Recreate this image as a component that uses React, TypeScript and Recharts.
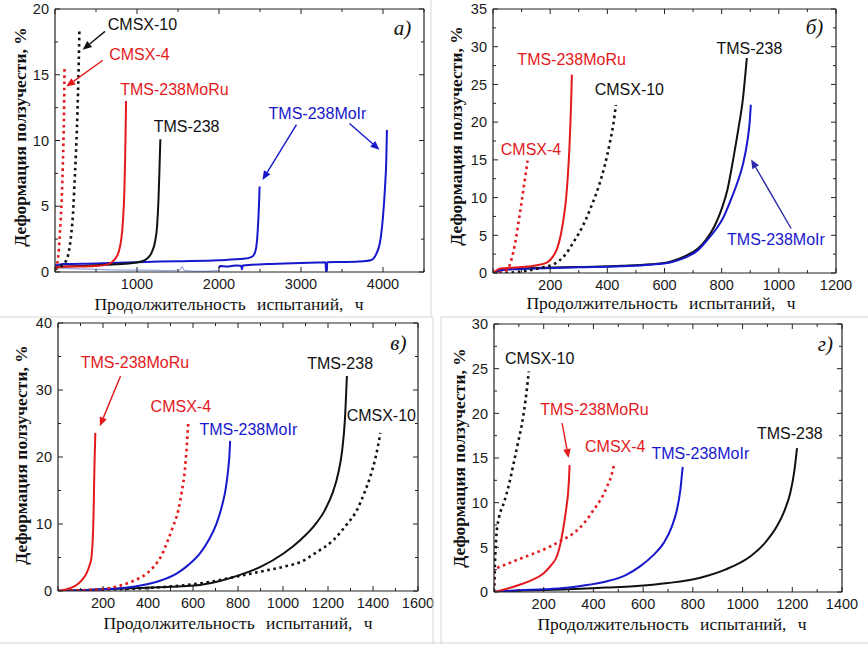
import React from 'react';
import { LineChart, Line, XAxis, YAxis, ReferenceDot, ReferenceLine } from 'recharts';

type Pt = [number, number];

const RED = '#e3191c';
const BLUE = '#1717cc';
const BLACK = '#111111';
const SANS = '"Liberation Sans", Arial, sans-serif';
const SERIF = '"Liberation Serif", "Times New Roman", serif';

// ---- panel а) ----
const aCmsx4: Pt[] = [[0, 0.2], [20, 0.5], [40, 1.2], [55, 2.5], [70, 4], [85, 6], [95, 8], [105, 10.5], [112, 13], [116, 15.5]];
const aCmsx10: Pt[] = [[0, 0.2], [60, 0.4], [120, 0.7], [160, 1.3], [200, 3], [225, 5], [240, 7], [255, 9], [268, 11], [280, 13.5], [290, 16], [298, 18.5]];
const aMoRu: Pt[] = [[0, 0.2], [20, 0.35], [100, 0.4], [300, 0.42], [500, 0.45], [650, 0.6], [720, 0.9], [780, 1.6], [810, 2.6], [830, 4], [845, 6], [855, 8.5], [862, 11], [866, 13]];
const aTms238: Pt[] = [[0, 0.3], [50, 0.4], [300, 0.45], [600, 0.55], [900, 0.65], [1050, 0.8], [1120, 1], [1180, 1.5], [1220, 2.3], [1245, 3.5], [1262, 5.5], [1275, 8], [1285, 10.1]];
const aMoIr1: Pt[] = [[0, 0.5], [100, 0.6], [500, 0.65], [1000, 0.75], [1500, 0.82], [2000, 0.9], [2300, 1], [2400, 1.15], [2440, 1.5], [2465, 2.5], [2480, 4], [2490, 5.5], [2495, 6.5]];
const aMoIr2: Pt[] = [[2000, 0.3], [2010, 0.45], [2100, 0.42], [2200, 0.5], [2270, 0.48], [2280, 0.2], [2290, 0.5], [2400, 0.55], [2600, 0.6], [2800, 0.65], [3000, 0.68], [3200, 0.72], [3300, 0.74], [3305, 0], [3315, 0], [3320, 0.74], [3500, 0.76], [3700, 0.8], [3850, 0.9], [3920, 1.4], [3970, 2.5], [4000, 4.2], [4025, 6.5], [4040, 8.5], [4048, 10.8]];
const aNoise: Pt[] = [[0, 0.3], [200, 0.25], [500, 0.2], [800, 0.15], [1100, 0.15], [1400, 0.1], [1520, 0.15], [1550, 0.4], [1580, 0.1], [1800, 0.05], [2000, 0.1]];

// ---- panel б) ----
const bCmsx4: Pt[] = [[0, 0], [30, 0.1], [45, 0.3], [60, 1.2], [70, 2.6], [80, 4.5], [92, 7.4], [100, 9.4], [108, 11.5], [115, 13.3], [121, 14.9]];
const bMoRu: Pt[] = [[0, 0], [10, 0.3], [25, 0.6], [60, 0.7], [100, 0.8], [150, 1], [190, 1.4], [210, 2.2], [225, 3.3], [238, 5.2], [248, 7.5], [256, 10], [262, 13], [267, 16.3], [271, 20], [274, 23.5], [276, 26.3]];
const bCmsx10: Pt[] = [[0, 0], [60, 0.05], [100, 0.2], [145, 0.5], [180, 0.8], [215, 1.2], [250, 2.3], [285, 4.3], [315, 6.3], [343, 8.75], [370, 11.5], [390, 14.1], [410, 17.5], [420, 19.5], [430, 22.3]];
const bTms238: Pt[] = [[0, 0], [20, 0.3], [50, 0.5], [150, 0.65], [300, 0.8], [450, 0.95], [550, 1.15], [620, 1.5], [670, 2.2], [716, 3.2], [745, 4.4], [775, 6.2], [800, 8.5], [820, 11], [840, 15], [858, 19], [874, 23], [888, 28.5]];
const bMoIr: Pt[] = [[0, 0], [20, 0.3], [50, 0.45], [150, 0.6], [300, 0.75], [450, 0.9], [550, 1.1], [620, 1.4], [670, 2], [716, 3], [750, 4.4], [780, 5.8], [805, 7.3], [830, 9.5], [855, 12], [875, 14.5], [890, 17.5], [898, 20], [902, 22.3]];

// ---- panel в) ----
const cMoRu: Pt[] = [[0, 0], [30, 0.2], [60, 0.5], [82, 0.9], [105, 1.6], [126, 2.6], [140, 3.8], [149, 5.1], [154, 7.5], [157, 10], [159, 13], [161, 17], [163, 20], [166, 23.6]];
const cCmsx4: Pt[] = [[0, 0], [100, 0.1], [200, 0.3], [260, 0.65], [320, 1.3], [360, 1.9], [394, 2.6], [430, 3.8], [460, 5.3], [483, 7.1], [510, 9.5], [535, 12.1], [550, 14.8], [564, 18.1], [572, 21.5], [579, 25.1]];
const cMoIr: Pt[] = [[0, 0], [100, 0.1], [200, 0.25], [300, 0.5], [378, 0.9], [450, 1.5], [527, 2.6], [580, 3.9], [631, 5.6], [670, 7.6], [705, 10.1], [728, 12.6], [745, 15.2], [756, 18], [762, 20.3], [765, 22.4]];
const cTms238: Pt[] = [[0, 0], [200, 0.25], [400, 0.5], [550, 0.7], [631, 0.9], [720, 1.5], [809, 2.4], [900, 3.6], [1002, 5.6], [1080, 7.7], [1140, 9.8], [1185, 12], [1220, 14.6], [1245, 17.5], [1263, 21], [1275, 25.5], [1284, 32.1]];
const cCmsx10: Pt[] = [[0, 0], [200, 0.2], [400, 0.45], [600, 1], [700, 1.5], [800, 2.2], [900, 2.9], [1000, 3.6], [1076, 4.3], [1150, 5.8], [1224, 7.6], [1280, 9.8], [1329, 12.1], [1360, 14.5], [1388, 17.1], [1412, 20], [1433, 23.6]];

// ---- panel г) ----
const dCmsx10: Pt[] = [[0, 0], [2, 2], [5, 4], [10, 6.5], [20, 8.3], [40, 10], [60, 12], [79, 14.4], [95, 16.5], [113, 18.9], [127, 21.5], [140, 24.7]];
const dCmsx4: Pt[] = [[0, 0], [3, 2.3], [10, 2.6], [50, 3.1], [93, 3.6], [150, 4.2], [227, 5.1], [280, 5.9], [321, 6.6], [365, 7.8], [401, 9.2], [430, 10.4], [455, 11.8], [472, 13], [484, 14.4]];
const dMoRu: Pt[] = [[0, 0], [50, 0.35], [106, 0.84], [150, 1.3], [200, 2.1], [230, 3], [253, 4], [268, 5.5], [280, 7.35], [290, 9.2], [298, 11.1], [302, 12.8], [304, 14.2]];
const dMoIr: Pt[] = [[0, 0], [100, 0.2], [200, 0.3], [294, 0.47], [380, 0.8], [455, 1.2], [530, 1.9], [589, 2.9], [640, 4.1], [683, 5.5], [715, 7.3], [736, 9.2], [750, 11.5], [759, 14]];
const dTms238: Pt[] = [[0, 0], [100, 0.15], [300, 0.3], [450, 0.5], [562, 0.65], [700, 1], [830, 1.6], [930, 2.5], [1032, 4], [1090, 5.5], [1138, 7.35], [1170, 9.2], [1192, 11.1], [1208, 13.5], [1219, 16.1]];

// ticks: all positions, and the labelled ones
const aXTicks = [0, 500, 1000, 1500, 2000, 2500, 3000, 3500, 4000, 4500];
const aXLabels = [1000, 2000, 3000, 4000];
const aYTicks = [0, 2.5, 5, 7.5, 10, 12.5, 15, 17.5, 20];
const aYLabels = [0, 5, 10, 15, 20];
const bXTicks = [0, 100, 200, 300, 400, 500, 600, 700, 800, 900, 1000, 1100, 1200];
const bXLabels = [200, 400, 600, 800, 1000, 1200];
const bYTicks = [0, 2.5, 5, 7.5, 10, 12.5, 15, 17.5, 20, 22.5, 25, 27.5, 30, 32.5, 35];
const bYLabels = [0, 5, 10, 15, 20, 25, 30, 35];
const cXTicks = [0, 100, 200, 300, 400, 500, 600, 700, 800, 900, 1000, 1100, 1200, 1300, 1400, 1500, 1600];
const cXLabels = [200, 400, 600, 800, 1000, 1200, 1400, 1600];
const cYTicks = [0, 5, 10, 15, 20, 25, 30, 35, 40];
const cYLabels = [0, 10, 20, 30, 40];
const dXTicks = [0, 100, 200, 300, 400, 500, 600, 700, 800, 900, 1000, 1100, 1200, 1300, 1400];
const dXLabels = [200, 400, 600, 800, 1000, 1200, 1400];
const dYTicks = [0, 2.5, 5, 7.5, 10, 12.5, 15, 17.5, 20, 22.5, 25, 27.5, 30];
const dYLabels = [0, 5, 10, 15, 20, 25, 30];

type Series = { pts: Pt[]; color: string; dotted?: boolean; width?: number };
type Note = { x: number; y: number; text: string; color: string };
type Arrow = { from: Pt; to: Pt; color: string };

const toRows = (pts: Pt[]) => pts.map(([x, y]) => ({ x, y }));

const bottomTick = (labels: number[], show: boolean) => (p: any) => {
  const v = p.payload.value;
  const major = labels.includes(v) || v === 0;
  const len = major ? 5 : 3;
  const dir = show ? -1 : 1;
  return (
    <g>
      <line x1={p.x} x2={p.x} y1={p.y} y2={p.y + dir * len} stroke="#222" strokeWidth={1} />
      {show && labels.includes(v) && (
        <text x={p.x} y={p.y + 16.5} textAnchor="middle" fontFamily={SANS} fontSize={14.5} fill="#1a1a1a">
          {v}
        </text>
      )}
    </g>
  );
};

const sideTick = (labels: number[], show: boolean) => (p: any) => {
  const v = p.payload.value;
  const len = labels.includes(v) ? 5 : 3;
  const dir = show ? 1 : -1;
  return (
    <g>
      <line x1={p.x} x2={p.x + dir * len} y1={p.y} y2={p.y} stroke="#222" strokeWidth={1} />
      {show && labels.includes(v) && (
        <text x={p.x - 6} y={p.y} dy="0.36em" textAnchor="end" fontFamily={SANS} fontSize={14.5} fill="#1a1a1a">
          {v}
        </text>
      )}
    </g>
  );
};

const arrowShape = (color: string) => (p: any) => {
  const { x1, y1, x2, y2 } = p;
  const ang = Math.atan2(y2 - y1, x2 - x1);
  const L = 9;
  const W = 3.8;
  const bx = x2 - L * Math.cos(ang);
  const by = y2 - L * Math.sin(ang);
  const nx = -Math.sin(ang) * W;
  const ny = Math.cos(ang) * W;
  return (
    <g>
      <line x1={x1} y1={y1} x2={bx} y2={by} stroke={color} strokeWidth={1.4} />
      <polygon points={`${x2},${y2} ${bx + nx},${by + ny} ${bx - nx},${by - ny}`} fill={color} />
    </g>
  );
};

const noteShape = (text: string, color: string, italic: boolean) => (p: any) => (
  <text
    x={p.cx}
    y={p.cy}
    dy="0.35em"
    textAnchor="middle"
    fontFamily={italic ? SERIF : SANS}
    fontStyle={italic ? 'italic' : 'normal'}
    fontSize={italic ? 21 : 16}
    fill={color}
  >
    {text}
  </text>
);

type PanelProps = {
  left: number;
  top: number;
  width: number;
  height: number;
  margin: { top: number; right: number; bottom: number; left: number };
  xDomain: [number, number];
  yDomain: [number, number];
  xTicks: number[];
  xLabels: number[];
  yTicks: number[];
  yLabels: number[];
  series: Series[];
  notes: Note[];
  arrows: Arrow[];
  tag: Note;
};

const AXIS_LINE = { stroke: '#222', strokeWidth: 1.2 };

function Panel(props: PanelProps) {
  const { xDomain, yDomain, xTicks, xLabels, yTicks, yLabels } = props;
  // axes take 1px each, so the plot box lands where the margin says
  const m = props.margin;
  const margin = { top: m.top - 1, right: m.right - 1, bottom: m.bottom - 1, left: m.left - 1 };
  return (
    <div style={{ position: 'absolute', left: props.left, top: props.top }}>
      <LineChart width={props.width} height={props.height} margin={margin}>
        <XAxis
          type="number"
          dataKey="x"
          domain={xDomain}
          ticks={xTicks}
          interval={0}
          allowDataOverflow
          height={1}
          tickSize={0}
          tickMargin={0}
          tickLine={false}
          axisLine={AXIS_LINE}
          tick={bottomTick(xLabels, true)}
        />
        <XAxis
          xAxisId="top"
          orientation="top"
          type="number"
          dataKey="x"
          domain={xDomain}
          ticks={xTicks}
          interval={0}
          allowDataOverflow
          height={1}
          tickSize={0}
          tickMargin={0}
          tickLine={false}
          axisLine={AXIS_LINE}
          tick={bottomTick(xLabels, false)}
        />
        <YAxis
          type="number"
          domain={yDomain}
          ticks={yTicks}
          interval={0}
          allowDataOverflow
          width={1}
          tickSize={0}
          tickMargin={0}
          tickLine={false}
          axisLine={AXIS_LINE}
          tick={sideTick(yLabels, true)}
        />
        <YAxis
          yAxisId="right"
          orientation="right"
          type="number"
          domain={yDomain}
          ticks={yTicks}
          interval={0}
          allowDataOverflow
          width={1}
          tickSize={0}
          tickMargin={0}
          tickLine={false}
          axisLine={AXIS_LINE}
          tick={sideTick(yLabels, false)}
        />
        {props.series.map((s, i) => (
          <Line
            key={i}
            data={toRows(s.pts)}
            dataKey="y"
            type="monotone"
            stroke={s.color}
            strokeWidth={s.width ?? (s.dotted ? 2.6 : 2)}
            strokeDasharray={s.dotted ? '2.6 3.6' : undefined}
            dot={false}
            activeDot={false}
            isAnimationActive={false}
          />
        ))}
        {props.arrows.map((a, i) => (
          <ReferenceLine
            key={'a' + i}
            segment={[{ x: a.from[0], y: a.from[1] }, { x: a.to[0], y: a.to[1] }]}
            shape={arrowShape(a.color)}
          />
        ))}
        {props.notes.map((n, i) => (
          <ReferenceDot key={'n' + i} x={n.x} y={n.y} shape={noteShape(n.text, n.color, false)} />
        ))}
        <ReferenceDot x={props.tag.x} y={props.tag.y} shape={noteShape(props.tag.text, props.tag.color, true)} />
      </LineChart>
    </div>
  );
}

const Y_TITLE = 'Деформация ползучести, %';
const X_TITLE = 'Продолжительность испытаний, ч';

function Titles() {
  const yPos: Pt[] = [[20, 137], [456, 136], [21, 455], [459, 458]];
  const xPos: Pt[] = [[229, 309.5], [661, 309], [238, 629], [672, 630]];
  return (
    <svg width={868} height={646} style={{ position: 'absolute', left: 0, top: 0, pointerEvents: 'none' }}>
      <line x1={431} y1={0} x2={431} y2={317} stroke="#d6d6d6" />
      <line x1={0} y1={317} x2={433} y2={317} stroke="#d6d6d6" />
      <line x1={433} y1={317} x2={433} y2={644} stroke="#d6d6d6" />
      <line x1={441} y1={317} x2={441} y2={644} stroke="#d6d6d6" />
      <line x1={441} y1={317} x2={868} y2={317} stroke="#d6d6d6" />
      <line x1={0} y1={643} x2={868} y2={643} stroke="#d6d6d6" />
      {yPos.map(([x, y], i) => (
        <text
          key={'y' + i}
          transform={`translate(${x},${y}) rotate(-90)`}
          textAnchor="middle"
          dy="0.35em"
          fontFamily={SERIF}
          fontSize={17.5}
          fontWeight={600}
          fill="#111"
        >
          {Y_TITLE}
        </text>
      ))}
      {xPos.map(([x, y], i) => (
        <text key={'x' + i} x={x} y={y} textAnchor="middle" fontFamily={SERIF} fontSize={17.5} wordSpacing={7} fill="#111">
          {X_TITLE}
        </text>
      ))}
    </svg>
  );
}

export default function App() {
  return (
    <div style={{ position: 'absolute', left: 0, top: 0, width: 868, height: 646, background: '#fff', overflow: 'hidden' }}>
      <Panel
        left={0}
        top={0}
        width={434}
        height={310}
        margin={{ top: 9, right: 10, bottom: 38, left: 55 }}
        xDomain={[0, 4500]}
        yDomain={[0, 20]}
        xTicks={aXTicks}
        xLabels={aXLabels}
        yTicks={aYTicks}
        yLabels={aYLabels}
        series={[
          { pts: aNoise, color: '#9aa6e6', width: 1.2 },
          { pts: aMoIr1, color: BLUE },
          { pts: aMoIr2, color: BLUE },
          { pts: aTms238, color: BLACK },
          { pts: aMoRu, color: RED },
          { pts: aCmsx10, color: BLACK, dotted: true },
          { pts: aCmsx4, color: RED, dotted: true },
        ]}
        arrows={[
          { from: [610, 18.3], to: [338, 16.9], color: BLACK },
          { from: [583, 16.1], to: [137, 14.1], color: RED },
          { from: [2945, 11.2], to: [2530, 7.0], color: BLUE },
          { from: [3591, 11.3], to: [3957, 9.3], color: BLUE },
        ]}
        notes={[
          { x: 1067, y: 18.85, text: 'CMSX-10', color: BLACK },
          { x: 1030, y: 16.57, text: 'CMSX-4', color: RED },
          { x: 1457, y: 13.9, text: 'TMS-238MoRu', color: RED },
          { x: 1604, y: 11.09, text: 'TMS-238', color: BLACK },
          { x: 3201, y: 12.08, text: 'TMS-238MoIr', color: BLUE },
        ]}
        tag={{ x: 4238, y: 18.55, text: 'а)', color: BLACK }}
      />
      <Panel
        left={434}
        top={0}
        width={434}
        height={310}
        margin={{ top: 9, right: 32, bottom: 37, left: 59 }}
        xDomain={[0, 1200]}
        yDomain={[0, 35]}
        xTicks={bXTicks}
        xLabels={bXLabels}
        yTicks={bYTicks}
        yLabels={bYLabels}
        series={[
          { pts: bTms238, color: BLACK },
          { pts: bMoIr, color: BLUE },
          { pts: bCmsx10, color: BLACK, dotted: true },
          { pts: bMoRu, color: RED },
          { pts: bCmsx4, color: RED, dotted: true },
        ]}
        arrows={[{ from: [1043, 5.9], to: [903, 15.05], color: '#2a2aa8' }]}
        notes={[
          { x: 275, y: 28.26, text: 'TMS-238MoRu', color: RED },
          { x: 477, y: 24.36, text: 'CMSX-10', color: BLACK },
          { x: 897, y: 29.8, text: 'TMS-238', color: BLACK },
          { x: 133, y: 16.38, text: 'CMSX-4', color: RED },
          { x: 990, y: 4.41, text: 'TMS-238MoIr', color: BLUE },
        ]}
        tag={{ x: 1125, y: 32.7, text: 'б)', color: BLACK }}
      />
      <Panel
        left={0}
        top={310}
        width={434}
        height={336}
        margin={{ top: 13, right: 16, bottom: 55, left: 58 }}
        xDomain={[0, 1600]}
        yDomain={[0, 40]}
        xTicks={cXTicks}
        xLabels={cXLabels}
        yTicks={cYTicks}
        yLabels={cYLabels}
        series={[
          { pts: cCmsx10, color: BLACK, dotted: true },
          { pts: cTms238, color: BLACK },
          { pts: cMoIr, color: BLUE },
          { pts: cCmsx4, color: RED, dotted: true },
          { pts: cMoRu, color: RED },
        ]}
        arrows={[{ from: [278, 32.1], to: [186, 24.6], color: RED }]}
        notes={[
          { x: 342, y: 34.1, text: 'TMS-238MoRu', color: RED },
          { x: 546, y: 27.5, text: 'CMSX-4', color: RED },
          { x: 846, y: 24.1, text: 'TMS-238MoIr', color: BLUE },
          { x: 1254, y: 33.9, text: 'TMS-238', color: BLACK },
          { x: 1437, y: 26.2, text: 'CMSX-10', color: BLACK },
        ]}
        tag={{ x: 1513, y: 37.1, text: 'в)', color: BLACK }}
      />
      <Panel
        left={434}
        top={310}
        width={434}
        height={336}
        margin={{ top: 14, right: 26, bottom: 54, left: 60 }}
        xDomain={[0, 1400]}
        yDomain={[0, 30]}
        xTicks={dXTicks}
        xLabels={dXLabels}
        yTicks={dYTicks}
        yLabels={dYLabels}
        series={[
          { pts: dTms238, color: BLACK },
          { pts: dMoIr, color: BLUE },
          { pts: dCmsx4, color: RED, dotted: true },
          { pts: dMoRu, color: RED },
          { pts: dCmsx10, color: BLACK, dotted: true },
        ]}
        arrows={[{ from: [274, 18.9], to: [300, 15], color: RED }]}
        notes={[
          { x: 184, y: 26.2, text: 'CMSX-10', color: BLACK },
          { x: 404, y: 20.4, text: 'TMS-238MoRu', color: RED },
          { x: 488, y: 16.3, text: 'CMSX-4', color: RED },
          { x: 830, y: 15.5, text: 'TMS-238MoIr', color: BLUE },
          { x: 1190, y: 17.7, text: 'TMS-238', color: BLACK },
        ]}
        tag={{ x: 1333, y: 27.8, text: 'г)', color: BLACK }}
      />
      <Titles />
    </div>
  );
}
